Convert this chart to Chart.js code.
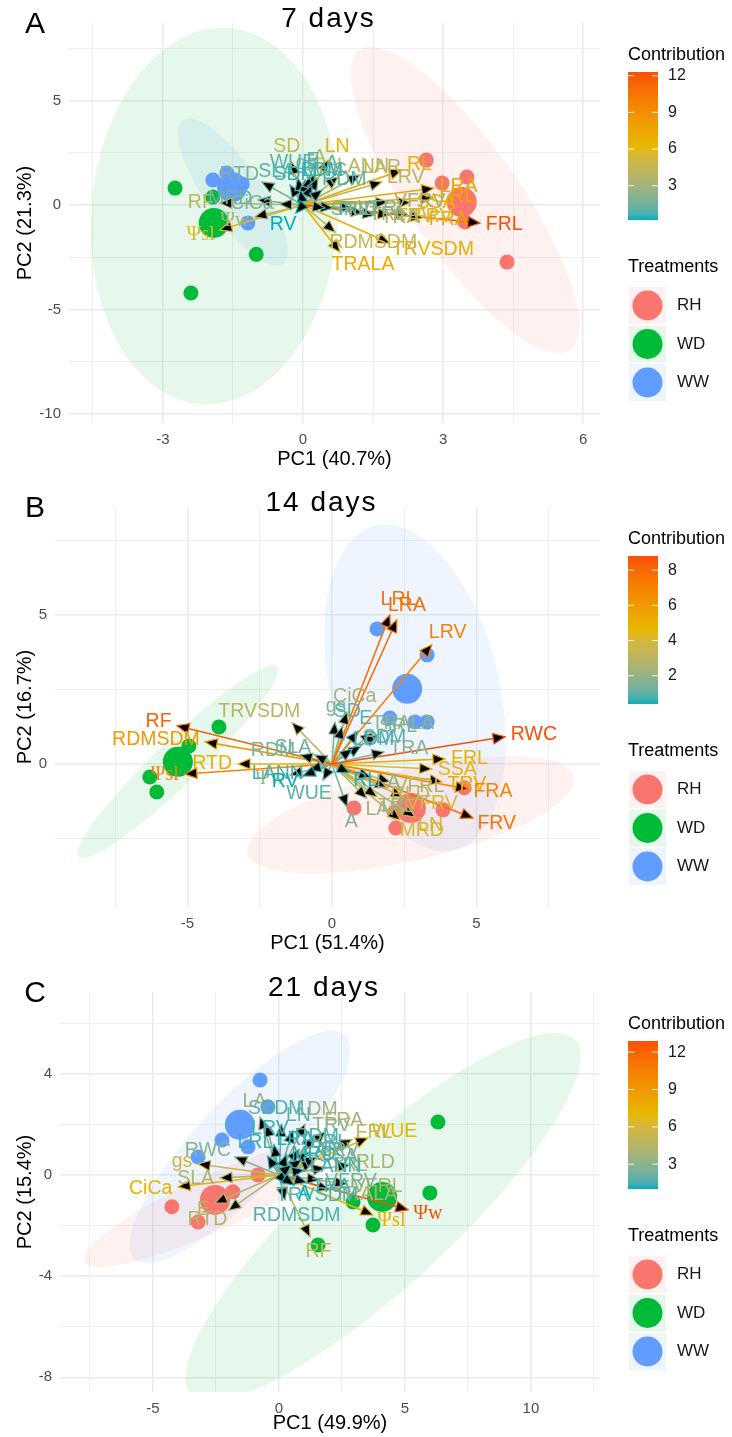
<!DOCTYPE html>
<html><head><meta charset="utf-8">
<script src="https://cdn.jsdelivr.net/npm/chart.js@4.4.1/dist/chart.umd.min.js"></script>
<style>
html,body{margin:0;padding:0;background:#fff;}
canvas{display:block;}
</style></head><body>
<canvas id="cA" width="732" height="484"></canvas>
<canvas id="cB" width="732" height="485"></canvas>
<canvas id="cC" width="732" height="468"></canvas>
<script>
// ================= DATA =================
// ---- Panel A : 7 days ----
const A_title = '7 days', A_letter = 'A', A_xTitle = 'PC1 (40.7%)', A_yTitle = 'PC2 (21.3%)';
const A_xTicks = [-3, 0, 3, 6];
const A_yTicks = [-10, -5, 0, 5];
const A_contribTicks = [3, 6, 9, 12];
const A_varNames   = ['FRL','FRA','FRV','LRA','LRL','SSA','RL','LN','TRVSDM','TRALA','RDMSDM','SD','A','LANN','LAR','LRV','RF','Ψw','Ψsl','MRD','RTD','CiCa','RWC','TRV','TRA','TRL','VFRL','VFRV','RLD','SRL','SLA','WUE','gs','E','LA','LDM','RDM','SDM','RV'];
const A_varPC1     = [3.79, 2.57, 2.25, 2.80, 2.79, 2.30, 2.12, 0.54, 1.86, 0.79, 0.69,-0.24, 0.26, 0.75, 1.22, 1.69,-1.78,-1.03,-1.78,-0.96,-0.88,-0.50, 0.19, 1.86, 1.54, 1.29, 1.05, 1.82, 0.64, 0.47,-0.28,-0.11, 0.04, 0.15, 0.32, 0.19, 0.41,-0.06,-0.15];
const A_varPC2     = [-0.86,-0.60,-0.48, 0.80, 0.35, 0.12, 1.67, 2.15,-1.82,-2.25,-1.30, 2.06, 1.53, 1.34, 1.44, 1.10, 0.10,-0.57,-1.20, 0.24, 1.10, 0.05, 0.96,-0.48,-0.48,-0.38,-0.14, 0.14,-0.14,-0.14, 0.96, 1.29, 1.20, 1.39, 1.29, 0.96, 0.72, 0.72,-0.38];
const A_varContrib = [12.3, 7.5, 6.0, 7.5, 7.5, 6.5, 7.0, 6.5, 7.0, 7.0, 4.5, 4.5, 4.0, 4.0, 4.0, 4.0, 4.0, 3.5, 6.0, 1.5, 1.8, 2.0, 2.0, 5.0, 3.0, 3.0, 2.0, 3.0, 1.0, 1.5, 1.0, 1.0, 0.8, 1.0, 1.2, 0.5, 0.8, 0.5, 0.2];
const A_RH_PC1 = [2.64, 3.51, 2.98, 3.47, 4.37], A_RH_PC2 = [2.15, 1.34, 1.05, -0.81, -2.73];
const A_WD_PC1 = [-2.74, -1.93, -1.00, -2.40],  A_WD_PC2 = [0.81, 0.38, -2.36, -4.21];
const A_WW_PC1 = [-1.93, -1.63, -1.30, -1.18],  A_WW_PC2 = [1.20, 1.53, 1.00, -0.86];
const A_meanPC1 = [3.40, -1.91, -1.52], A_meanPC2 = [0.14, -0.86, 0.86]; // RH, WD, WW
// ellipse: centre, first and second semi-axis vectors (RH, WD, WW)
const A_ellCX = [3.47, -1.89, -1.50], A_ellCY = [0.24, -0.53, 0.62];
const A_ellUX = [2.25, 0.28, 1.07],  A_ellUY = [-7.18, 9.00, -3.44];
const A_ellVX = [0.96, 2.64, 0.49],  A_ellVY = [1.48, -0.38, 0.77];

// ---- Panel B : 14 days ----
const B_title = '14 days', B_letter = 'B', B_xTitle = 'PC1 (51.4%)', B_yTitle = 'PC2 (16.7%)';
const B_xTicks = [-5, 0, 5];
const B_yTicks = [0, 5];
const B_contribTicks = [2, 4, 6, 8];
const B_varNames   = ['LRL','LRA','LRV','RWC','FRL','SSA','TRV','FRA','FRV','LN','VFRV','MRD','VFRL','RLD','TRL','LAR','LA','A','CiCa','gs','TRALA','SRL','TRA','E','SD','SDM','LDM','TRVSDM','RF','RDMSDM','RTD','Ψsl','Ψw','RDM','SLA','WUE','LANN','RL','RV'];
const B_varPC1     = [2.00, 2.24, 3.45, 5.99, 3.91, 3.45, 3.80, 4.70, 4.88, 2.87, 2.46, 2.35, 2.00, 1.90, 1.55, 1.20, 1.35, 0.52, 0.52, 0.10, 1.42, 1.56, 1.80, 0.90, 0.35, 1.00, 0.70,-1.38,-5.36,-4.39,-3.25,-5.09,-1.45,-1.10,-0.60,-0.31,-0.80, 0.60,-1.00];
const B_varPC2     = [5.00, 4.83, 4.00, 0.91, 0.17,-0.17,-0.60,-0.84,-1.81,-1.78,-1.11,-1.88,-0.60,-0.80,-1.10,-1.15,-0.45,-1.44, 1.74, 1.40, 1.04, 0.97, 0.40, 1.10, 1.25, 0.60, 0.50, 1.38, 1.28, 0.74, 0.00,-0.34,-0.37, 0.30, 0.30,-0.54,-0.20,-0.30,-0.40];
const B_varContrib = [7.6, 7.8, 7.0, 8.8, 5.0, 4.5, 5.0, 7.0, 7.6, 3.5, 4.0, 4.2, 3.0, 3.0, 2.5, 2.2, 2.0, 1.5, 2.5, 1.5, 2.0, 1.5, 1.8, 1.0, 1.0, 1.0, 0.8, 3.0, 8.2, 6.0, 5.0, 7.0, 2.0, 1.5, 1.2, 1.0, 0.8, 0.5, 0.4];
const B_RH_PC1 = [0.76, 2.18, 2.21, 3.84, 4.57], B_RH_PC2 = [-1.48, -1.61, -2.15, -1.54, -0.80];
const B_WD_PC1 = [-3.91, -6.30, -6.06, -4.95],   B_WD_PC2 = [1.24, -0.44, -0.94, 0.60];
const B_WW_PC1 = [1.56, 3.29, 2.00, 2.87, 3.29], B_WW_PC2 = [4.53, 3.66, 1.54, 1.41, 1.41];
const B_meanPC1 = [2.73, -5.33, 2.60], B_meanPC2 = [-1.48, 0.07, 2.52];
const B_ellCX = [2.73, -5.33, 2.87], B_ellCY = [-1.71, 0.07, 2.55];
const B_ellUX = [5.64, 3.43, -1.38], B_ellUY = [1.28, 3.19, 5.44];
const B_ellVX = [0.35, 0.52, 2.82],  B_ellVY = [-1.48, -0.54, 0.67];

// ---- Panel C : 21 days ----
const C_title = '21 days', C_letter = 'C', C_xTitle = 'PC1 (49.9%)', C_yTitle = 'PC2 (15.4%)';
const C_xTicks = [-5, 0, 5, 10];
const C_yTicks = [-8, -4, 0, 4];
const C_contribTicks = [3, 6, 9, 12];
const C_varNames   = ['Ψw','Ψsl','WUE','CiCa','gs','SLA','RWC','E','RTD','LA','RF','FRL','FRA','LDM','RLD','VFRL','TRL','TRALA','TRVSDM','RDMSDM','SD','SDM','LN','TRV','LRV','LRL','LRA','RDM','SRL','SSA','LAR','LANN','MRD','VFRV','FRV','TRA','A'];
const C_varPC1     = [5.12, 3.73, 3.53,-4.00,-3.21,-2.34,-1.75,-2.54,-2.00,-0.75, 1.23, 2.90, 1.83, 1.03, 2.82, 2.70, 1.83, 2.02, 0.30, 0.24,-0.50, 0.10, 0.55, 1.40,-0.20,-0.45, 0.30, 0.80, 1.20, 1.40, 0.90, 1.00, 0.50, 1.60, 1.50, 1.10, 0.60];
const C_varPC2     = [-1.38,-1.58, 1.46,-0.47, 0.43,-0.12, 0.71,-1.11,-1.40, 2.29,-2.45, 1.40, 1.70, 2.00, 0.40,-0.36, 0.28,-0.59,-0.35,-0.99, 2.00, 2.00, 1.75, 1.50, 1.20, 0.75, 0.80, 1.00, 0.90, 0.50, 0.60, 0.20, 0.40,-0.20, 0.70,-0.30,-0.40];
const C_varContrib = [12.9, 7.5, 7.0, 7.5, 5.5, 4.0, 3.0, 4.5, 4.5, 3.5, 5.0, 5.0, 4.0, 3.5, 4.0, 4.0, 3.5, 4.0, 1.6, 1.6, 2.0, 1.6, 1.8, 3.0, 1.4, 1.3, 1.2, 1.5, 1.6, 2.0, 1.5, 1.4, 1.2, 2.5, 2.5, 1.5, 1.0];
const C_RH_PC1 = [-4.25, -3.21, -1.83, -0.83],      C_RH_PC2 = [-1.26, -1.86, -0.67, 0.00];
const C_WD_PC1 = [6.31, 5.99, 3.73, 1.55, 2.94],    C_WD_PC2 = [2.09, -0.71, -1.98, -2.77, -1.07];
const C_WW_PC1 = [-0.75, -0.44, -2.26, -1.23, -3.21], C_WW_PC2 = [3.75, 2.69, 1.38, 1.11, 0.71];
const C_meanPC1 = [-2.54, 4.09, -1.55], C_meanPC2 = [-0.99, -0.87, 1.98];
const C_ellCX = [-2.62, 4.13, -1.55], C_ellCY = [-1.11, -1.66, 1.11];
const C_ellUX = [5.08, 7.62, 4.17],   C_ellUY = [2.33, 7.00, 4.43];
const C_ellVX = [0.48, 1.83, 1.31],   C_ellVY = [-0.99, -1.98, -1.23];

const treatNames = ['RH', 'WD', 'WW'];
const treatColors = ['#F8766D', '#00BA38', '#619CFF'];
const treatFills = ['rgba(248,118,109,0.10)', 'rgba(0,186,56,0.10)', 'rgba(97,156,255,0.10)'];
const gradientCols = ['#00AFBB', '#E7B800', '#FC4E07'];

// ================= HELPERS =================
const SANS = '"Liberation Sans", Arial, Helvetica, sans-serif';
const SERIF = '"Liberation Serif", "Times New Roman", serif';
function hex2rgb(h){return [parseInt(h.slice(1,3),16),parseInt(h.slice(3,5),16),parseInt(h.slice(5,7),16)];}
function lin(c){c/=255;return c<=0.04045?c/12.92:Math.pow((c+0.055)/1.055,2.4);}
function delin(v){v=v<=0.0031308?12.92*v:1.055*Math.pow(v,1/2.4)-0.055;return Math.round(Math.min(1,Math.max(0,v))*255);}
function rgb2lab(rgb){const [r,g,b]=rgb.map(lin);
  const X=(0.4124564*r+0.3575761*g+0.1804375*b)/0.95047, Y=(0.2126729*r+0.7151522*g+0.0721750*b), Z=(0.0193339*r+0.1191920*g+0.9503041*b)/1.08883;
  const f=t=>t>216/24389?Math.cbrt(t):(24389/27*t+16)/116;
  const fx=f(X),fy=f(Y),fz=f(Z);return [116*fy-16,500*(fx-fy),200*(fy-fz)];}
function lab2rgb([L,a,b]){const fy=(L+16)/116,fx=fy+a/500,fz=fy-b/200;
  const finv=t=>{const t3=t*t*t;return t3>216/24389?t3:(116*t-16)/(24389/27);};
  const X=finv(fx)*0.95047,Y=finv(fy),Z=finv(fz)*1.08883;
  const r=3.2404542*X-1.5371385*Y-0.4985314*Z,g=-0.9692660*X+1.8760108*Y+0.0415560*Z,bb=0.0556434*X-0.2040259*Y+1.0572252*Z;
  return [delin(r),delin(g),delin(bb)];}
const GRAD_LAB = gradientCols.map(h=>rgb2lab(hex2rgb(h)));
function gradColor(t){
  t=Math.max(0,Math.min(1,t));const s=t*(GRAD_LAB.length-1);const i=Math.min(GRAD_LAB.length-2,Math.floor(s));const u=s-i;
  const A=GRAD_LAB[i],B=GRAD_LAB[i+1];const c=lab2rgb([A[0]+(B[0]-A[0])*u,A[1]+(B[1]-A[1])*u,A[2]+(B[2]-A[2])*u]);
  return 'rgb('+c.join(',')+')';}
function ellipsePts(cx,cy,ux,uy,vx,vy){const pts=[];for(let k=0;k<=90;k++){const t=k/90*2*Math.PI;pts.push({x:cx+ux*Math.cos(t)+vx*Math.sin(t),y:cy+uy*Math.cos(t)+vy*Math.sin(t)});}return pts;}
function minorOf(major){const step=major[1]-major[0];const out=[major[0]-step/2];major.forEach(m=>out.push(m+step/2));return out;}

function makePanel(id, P){
  const cmin=Math.min(...P.contrib), cmax=Math.max(...P.contrib);
  const colOf=v=>gradColor((v-cmin)/(cmax-cmin));
  const datasets=[];
  for(let g=0;g<3;g++){
    datasets.push({type:'scatter',showLine:true,fill:'shape',data:ellipsePts(P.ell.cx[g],P.ell.cy[g],P.ell.ux[g],P.ell.uy[g],P.ell.vx[g],P.ell.vy[g]),
      backgroundColor:treatFills[g],borderColor:'rgba(0,0,0,0)',borderWidth:0,pointRadius:0,tension:0,order:100});
  }
  for(let g=0;g<3;g++){
    datasets.push({type:'scatter',data:P.pts[g][0].map((x,i)=>({x,y:P.pts[g][1][i]})),backgroundColor:treatColors[g],borderWidth:0,pointRadius:7.5,pointHoverRadius:7.5,order:60});
    datasets.push({type:'scatter',data:[{x:P.means[0][g],y:P.means[1][g]}],backgroundColor:treatColors[g],borderWidth:0,pointRadius:15,pointHoverRadius:15,order:50});
  }
  P.names.forEach((n,i)=>{
    datasets.push({type:'scatter',showLine:true,data:[{x:0,y:0},{x:P.pc1[i],y:P.pc2[i]}],borderColor:colOf(P.contrib[i]),borderWidth:1.6,pointRadius:0,order:10-P.contrib[i]/100});
  });
  const inR=(v,r)=>v>=r[0]-1e-9&&v<=r[1]+1e-9;
  const xAll=[...P.xTicks,...minorOf(P.xTicks)].filter(v=>inR(v,P.xr)).sort((a,b)=>a-b);
  const yAll=[...P.yTicks,...minorOf(P.yTicks)].filter(v=>inR(v,P.yr)).sort((a,b)=>a-b);
  const isMajor=(arr,v)=>arr.some(a=>Math.abs(a-v)<1e-6);
  const biplot={id:'biplot'+id,
    afterDatasetsDraw(chart){
      const ctx=chart.ctx,xs=chart.scales.x,ys=chart.scales.y,a=chart.chartArea;
      const ox=xs.getPixelForValue(0),oy=ys.getPixelForValue(0);
      ctx.save();ctx.beginPath();ctx.rect(a.left,a.top,a.right-a.left,a.bottom-a.top);ctx.clip();
      P.names.forEach((n,i)=>{
        const tx=xs.getPixelForValue(P.pc1[i]),ty=ys.getPixelForValue(P.pc2[i]);
        const ang=Math.atan2(ty-oy,tx-ox);const L=12,W=5.2;
        const bx=tx-L*Math.cos(ang),by=ty-L*Math.sin(ang);
        ctx.beginPath();ctx.moveTo(tx,ty);
        ctx.lineTo(bx+W*Math.sin(ang),by-W*Math.cos(ang));
        ctx.lineTo(bx-W*Math.sin(ang),by+W*Math.cos(ang));ctx.closePath();
        ctx.fillStyle='#000';ctx.fill();ctx.strokeStyle=colOf(P.contrib[i]);ctx.lineWidth=1.2;ctx.stroke();
      });
      P.names.forEach((n,i)=>{
        const tx=xs.getPixelForValue(P.pc1[i]),ty=ys.getPixelForValue(P.pc2[i]);
        const serif=n.indexOf('Ψ')===0;
        ctx.font=serif?('20px '+SERIF):('19.5px '+SANS);
        const w=ctx.measureText(n).width,h=14;
        let dx=tx-ox,dy=ty-oy;const d=Math.hypot(dx,dy)||1;dx/=d;dy/=d;
        const cx=tx+dx*(w/2+6),cy=ty+dy*(h/2+9);
        ctx.fillStyle=colOf(P.contrib[i]);ctx.textAlign='center';ctx.textBaseline='middle';
        ctx.fillText(n,cx,cy);
      });
      ctx.restore();
    },
    afterDraw(chart){
      const ctx=chart.ctx,a=chart.chartArea;
      ctx.save();
      ctx.fillStyle='#000';ctx.textAlign='center';ctx.textBaseline='middle';
      ctx.font='28px '+SANS;
      if('letterSpacing' in ctx) ctx.letterSpacing='2px';
      ctx.fillText(P.title,(a.left+a.right)/2-6,19);
      if('letterSpacing' in ctx) ctx.letterSpacing='0px';
      ctx.font='30px '+SANS;ctx.fillText(P.letter,35,25);
      const x0=628;
      ctx.textAlign='left';ctx.font='18px '+SANS;ctx.fillStyle='#000';
      ctx.fillText('Contribution',x0,55);
      const bt=72,bb=220,bw=30;
      const gr=ctx.createLinearGradient(0,bb,0,bt);
      for(let k=0;k<=30;k++)gr.addColorStop(k/30,gradColor(k/30));
      ctx.fillStyle=gr;ctx.fillRect(x0,bt,bw,bb-bt);
      ctx.font='16px '+SANS;
      P.cticks.forEach(v=>{
        const y=bb-(v-cmin)/(cmax-cmin)*(bb-bt);
        ctx.strokeStyle='rgba(255,255,255,0.85)';ctx.lineWidth=1;
        ctx.beginPath();ctx.moveTo(x0,y);ctx.lineTo(x0+6,y);ctx.moveTo(x0+bw-6,y);ctx.lineTo(x0+bw,y);ctx.stroke();
        ctx.fillStyle='#1a1a1a';ctx.fillText(String(v),x0+40,y);
      });
      ctx.font='18px '+SANS;ctx.fillStyle='#000';ctx.fillText('Treatments',x0,267);
      for(let g=0;g<3;g++){
        const ky=287+g*38.5;
        ctx.fillStyle=treatFills[g];ctx.fillRect(x0+1,ky,37,37);
        ctx.fillStyle=treatColors[g];ctx.beginPath();ctx.arc(x0+19.5,ky+18.5,15,0,2*Math.PI);ctx.fill();
        ctx.fillStyle='#1a1a1a';ctx.font='17px '+SANS;ctx.fillText(treatNames[g],x0+49,ky+18.5);
      }
      ctx.restore();
    }
  };
  const tickFont={family:SANS,size:15};
  new Chart(document.getElementById(id),{
    type:'scatter',
    data:{datasets},
    options:{
      responsive:false,animation:false,events:[],
      layout:{autoPadding:false,padding:{left:0,right:132,top:23,bottom:0}},
      plugins:{legend:{display:false},tooltip:{enabled:false},title:{display:false}},
      scales:{
        x:{type:'linear',min:P.xr[0],max:P.xr[1],
          afterFit:s=>{s.height=P.H-423;},
          afterBuildTicks:s=>{s.ticks=xAll.map(v=>({value:v}));},
          ticks:{autoSkip:false,maxRotation:0,padding:8,color:'#4D4D4D',font:tickFont,callback:v=>isMajor(P.xTicks,v)?String(v):''},
          grid:{color:'#EBEBEB',lineWidth:c=>isMajor(P.xTicks,c.tick.value)?1.5:0.8,drawTicks:false},
          border:{display:false},
          title:{display:true,text:P.xTitle,color:'#000',font:{family:SANS,size:20},padding:{top:0,bottom:P.xTitlePad}}},
        y:{type:'linear',min:P.yr[0],max:P.yr[1],
          afterFit:s=>{s.width=P.yW;},
          afterBuildTicks:s=>{s.ticks=yAll.map(v=>({value:v}));},
          ticks:{autoSkip:false,padding:8,color:'#4D4D4D',font:tickFont,callback:v=>isMajor(P.yTicks,v)?String(v):''},
          grid:{color:'#EBEBEB',lineWidth:c=>isMajor(P.yTicks,c.tick.value)?1.5:0.8,drawTicks:false},
          border:{display:false},
          title:{display:true,text:P.yTitle,color:'#000',font:{family:SANS,size:20},padding:{top:13,bottom:0}}}
      }
    },
    plugins:[biplot]
  });
}

makePanel('cA',{H:484,yW:69,xr:[-5.01,6.36],yr:[-10.43,8.71],xTitlePad:13,
  title:A_title,letter:A_letter,xTitle:A_xTitle,yTitle:A_yTitle,xTicks:A_xTicks,yTicks:A_yTicks,cticks:A_contribTicks,
  names:A_varNames,pc1:A_varPC1,pc2:A_varPC2,contrib:A_varContrib,
  pts:[[A_RH_PC1,A_RH_PC2],[A_WD_PC1,A_WD_PC2],[A_WW_PC1,A_WW_PC2]],means:[A_meanPC1,A_meanPC2],
  ell:{cx:A_ellCX,cy:A_ellCY,ux:A_ellUX,uy:A_ellUY,vx:A_ellVX,vy:A_ellVY}});
makePanel('cB',{H:485,yW:55,xr:[-9.58,9.27],yr:[-4.80,8.62],xTitlePad:14,
  title:B_title,letter:B_letter,xTitle:B_xTitle,yTitle:B_yTitle,xTicks:B_xTicks,yTicks:B_yTicks,cticks:B_contribTicks,
  names:B_varNames,pc1:B_varPC1,pc2:B_varPC2,contrib:B_varContrib,
  pts:[[B_RH_PC1,B_RH_PC2],[B_WD_PC1,B_WD_PC2],[B_WW_PC1,B_WW_PC2]],means:[B_meanPC1,B_meanPC2],
  ell:{cx:B_ellCX,cy:B_ellCY,ux:B_ellUX,uy:B_ellUY,vx:B_ellVX,vy:B_ellVY}});
makePanel('cC',{H:468,yW:60,xr:[-8.69,12.74],yr:[-8.58,7.23],xTitlePad:2,
  title:C_title,letter:C_letter,xTitle:C_xTitle,yTitle:C_yTitle,xTicks:C_xTicks,yTicks:C_yTicks,cticks:C_contribTicks,
  names:C_varNames,pc1:C_varPC1,pc2:C_varPC2,contrib:C_varContrib,
  pts:[[C_RH_PC1,C_RH_PC2],[C_WD_PC1,C_WD_PC2],[C_WW_PC1,C_WW_PC2]],means:[C_meanPC1,C_meanPC2],
  ell:{cx:C_ellCX,cy:C_ellCY,ux:C_ellUX,uy:C_ellUY,vx:C_ellVX,vy:C_ellVY}});
</script>
</body></html>
